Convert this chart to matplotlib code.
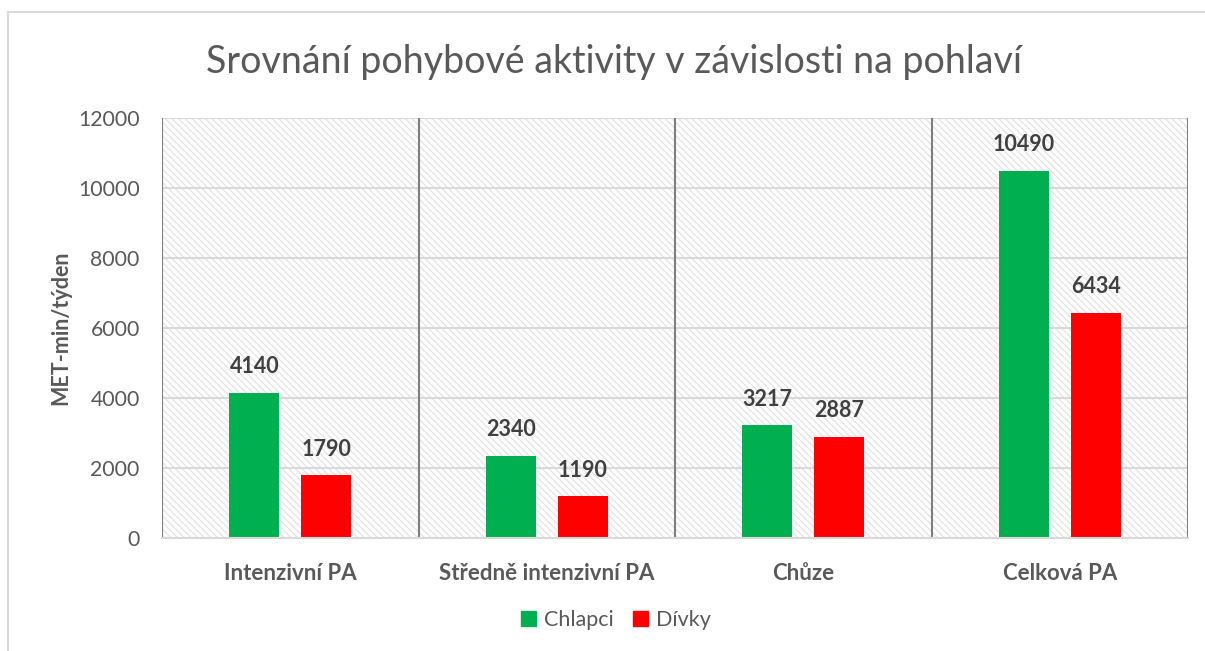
import numpy as np
import matplotlib.pyplot as plt
from matplotlib.lines import Line2D
from matplotlib.patches import Rectangle

categories = ["Intenzivní PA", "Středně intenzivní PA", "Chůze", "Celková PA"]
chlapci = [4140, 2340, 3217, 10490]
divky = [1790, 1190, 2887, 6434]
series_names = ["Chlapci", "Dívky"]
yticks = [0, 2000, 4000, 6000, 8000, 10000, 12000]

plt.rcParams['font.family'] = ['Lato', 'DejaVu Sans']
plt.rcParams['hatch.color'] = '#e3e3e3'
plt.rcParams['hatch.linewidth'] = 0.9

fig = plt.figure(figsize=(12.05, 6.51), dpi=100)
ax = fig.add_axes([162/1205, 1 - 538/651, (1188-162)/1205, (538-118)/651])

# outer chart frame (only left/top visible in the crop)
fig.add_artist(Line2D([8/1205, 8/1205], [0, 1 - 12/651], color='#d9d9d9', lw=1.5, transform=fig.transFigure))
fig.add_artist(Line2D([8/1205, 1], [1 - 12/651, 1 - 12/651], color='#d9d9d9', lw=1.5, transform=fig.transFigure))

x = np.arange(len(categories))
w = 0.195
off = 0.14

ax.set_xlim(-0.5, len(categories) - 0.5)
ax.set_ylim(0, 12000)

# hatched background
ax.add_patch(Rectangle((0, 0), 1, 1, transform=ax.transAxes, facecolor='white',
                       edgecolor='#e3e3e3', hatch='\\\\\\\\\\', lw=0, zorder=0))

for yv in yticks[1:]:
    ax.axhline(yv, color='#d9d9d9', lw=1.5, zorder=1)
for xv in np.arange(-0.5, len(categories), 1.0):
    ax.axvline(xv, color='#7f7f7f', lw=1.5, zorder=2)

b1 = ax.bar(x - off, chlapci, w, color='#00b050', zorder=3)
b2 = ax.bar(x + off, divky, w, color='#ff0000', zorder=3)

for bars in (b1, b2):
    for r in bars:
        ax.text(r.get_x() + r.get_width()/2, r.get_height() + 450, str(int(r.get_height())),
                ha='center', va='bottom', fontsize=15.5, fontweight='bold', color='#404040')

for s in ax.spines.values():
    s.set_visible(False)
ax.plot([0, 1], [0, 0], transform=ax.transAxes, color='#d9d9d9', lw=1.5, clip_on=False, zorder=4)

ax.set_yticks(yticks)
ax.set_yticklabels([str(v) for v in yticks], fontsize=15.3, color='#595959')
ax.set_xticks(x)
ax.set_xticklabels(categories, fontsize=16, fontweight='bold', color='#595959')
ax.tick_params(axis='both', length=0)
ax.tick_params(axis='x', pad=18)
ax.tick_params(axis='y', pad=16)
ax.set_ylabel("MET-min/týden", fontsize=15.5, fontweight='bold', color='#595959')
ax.yaxis.set_label_coords(-0.088, 0.5)

fig.text(614/1205, 1 - 62/651, "Srovnání pohybové aktivity v závislosti na pohlaví",
         ha='center', va='center', fontsize=27, color='#595959')

handles = [Rectangle((0, 0), 1, 1, color='#00b050'), Rectangle((0, 0), 1, 1, color='#ff0000')]
fig.legend(handles, series_names, loc='center', bbox_to_anchor=(616/1205, 1 - 620/651),
           ncol=2, frameon=False, fontsize=15.5, handlelength=0.7, handleheight=0.7,
           handletextpad=0.35, columnspacing=0.9, labelcolor='#595959')

fig.savefig("out.png", dpi=100)
